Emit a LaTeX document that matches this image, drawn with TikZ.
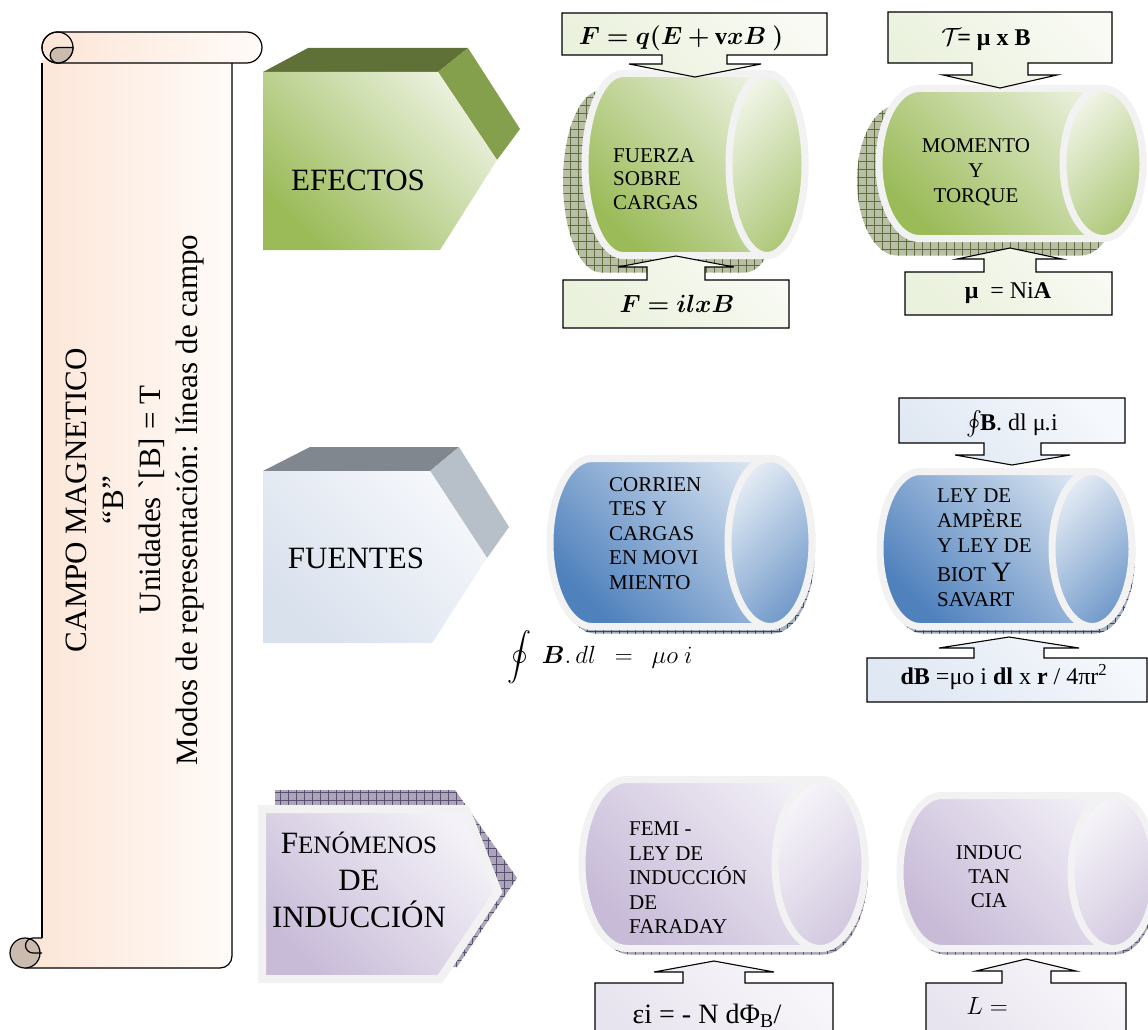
\documentclass[tikz,border=0pt]{standalone}
\usepackage{fontspec}
\setmainfont{Liberation Serif}
\usepackage{amsmath,amssymb,bm}
\usetikzlibrary{calc}

\definecolor{rim}{HTML}{F2F2F2}
\definecolor{gdark}{HTML}{9BBB59}
\definecolor{glight}{HTML}{EBF1DE}
\definecolor{gtop}{HTML}{5F7137}
\definecolor{gside}{HTML}{84A04D}
\definecolor{gshbase}{HTML}{B9BEA6}
\definecolor{gshline}{HTML}{5E6E3A}
\definecolor{bdark}{HTML}{4F81BD}
\definecolor{blight}{HTML}{DCE6F2}
\definecolor{bshbase}{HTML}{A3AEBF}
\definecolor{bshline}{HTML}{2E4A73}
\definecolor{pdark}{HTML}{C8BBD8}
\definecolor{plight}{HTML}{F4F2F8}
\definecolor{pshbase}{HTML}{ABA5B8}
\definecolor{pshline}{HTML}{5A4F72}
\definecolor{ftop}{HTML}{80878F}
\definecolor{fside}{HTML}{B7BFC8}
\definecolor{flight}{HTML}{F5F7FB}
\definecolor{fdark}{HTML}{D9E1ED}
\definecolor{scrollA}{HTML}{FCE5D6}
\definecolor{scrollB}{HTML}{FFFBF8}
\definecolor{curl}{HTML}{CBBBAE}
\definecolor{boxgA}{HTML}{EAF1DC}
\definecolor{boxgB}{HTML}{F8FAF3}
\definecolor{boxbA}{HTML}{E0E8F3}
\definecolor{boxbB}{HTML}{F5F8FC}
\definecolor{boxpA}{HTML}{E8E4EF}
\definecolor{boxpB}{HTML}{F8F6FA}

% outline of a lying cylinder: left x, centre y, x of the front ellipse, radii
\newcommand{\mkcylpath}[5]{({#3},{#2-#5}) -- ({#1+#4},{#2-#5})
  arc[start angle=90, end angle=270, x radius=#4pt, y radius=#5pt]
  -- ({#3},{#2+#5}) arc[start angle=-90, end angle=90, x radius=#4pt, y radius=#5pt] -- cycle}

% cylinder body and its front face
\newcommand{\mkcylinder}[7]{%
  \path[draw=rim, line width=7pt, top color=#7, bottom color=#6, shading angle=-45]
    \mkcylpath{#1}{#2}{#3}{#4}{#5};
  \path[draw=rim, line width=7pt, top color=#7!80!white, bottom color=#6!75!#7, shading angle=45]
    ({#3},{#2}) ellipse[x radius=#4pt, y radius=#5pt];}

% hatched drop shadow of a cylinder
\newcommand{\mkcylshadow}[9]{%
  \begin{scope}[shift={(#6,#7)}]
    \clip \mkcylpath{#1}{#2}{#3}{#4}{#5};
    \fill[#8] ({#1-10},{#2-#5-10}) rectangle ({#3+#4+10},{#2+#5+10});
    \draw[#9, line width=0.5pt, step=8pt] ({#1-10},{#2-#5-10}) grid ({#3+#4+10},{#2+#5+10});
  \end{scope}}

\begin{document}
\begin{tikzpicture}[x=1pt, y=-1pt,
  scrollline/.style={draw=black, line width=1.2pt},
  cyltext/.style={font=\fontsize{21}{24.5}\selectfont, inner sep=0pt},
  bigtext/.style={font=\fontsize{31}{37}\selectfont, inner sep=0pt},
  formula/.style={font=\fontsize{24}{28}\selectfont, inner sep=0pt},
  callg/.style={draw=black, line width=1.1pt, top color=boxgB, bottom color=boxgA, shading angle=-45},
  callb/.style={draw=black, line width=1.1pt, top color=boxbB, bottom color=boxbA, shading angle=-45},
  callp/.style={draw=black, line width=1.1pt, top color=boxpB, bottom color=boxpA, shading angle=-45}]
\useasboundingbox (0,0) rectangle (1148,1030);
\clip (0,0) rectangle (1148,1030);
\fill[white] (0,0) rectangle (1148,1030);

% ---------------- scroll ----------------
\path[left color=scrollA, right color=scrollB] (42,60) -- (42,953) -- (25,953) -- (25,968)
  -- (220,968) arc[start angle=270, end angle=360, radius=12pt] -- (232,60) -- cycle;
\fill[scrollA] (33,938) rectangle (42,953);
\draw[scrollline] (42,63) -- (42,938);
\draw[scrollline] (25,968) -- (220,968) arc[start angle=270, end angle=360, radius=12pt] -- (232,63);
\filldraw[fill=curl, scrollline] (25,953) circle[radius=15pt];
\draw[scrollline] (42,938) -- (33,938) arc[start angle=90, end angle=270, radius=7.5pt] -- (42,953);
\path[left color=scrollA, right color=scrollB, scrollline] (57.5,32) -- (246.5,32)
  arc[start angle=90, end angle=-90, radius=15.5pt] -- (57.5,63)
  arc[start angle=270, end angle=90, radius=15.5pt] -- cycle;
\draw[scrollline] (57.5,47.5) circle[radius=15.5pt];
\filldraw[fill=curl, scrollline] (73,47.5) -- (58,47.5) arc[start angle=90, end angle=270, radius=7.75pt]
  -- (57.5,63) arc[start angle=270, end angle=360, radius=15.5pt] -- cycle;
\node[rotate=90, align=center, font=\fontsize{31}{36.7}\selectfont, inner sep=0pt] (campo) at (135,500)
  {CAMPO MAGNETICO\\“B”\\Unidades \textasciigrave[B] = T\\Modos de representación: líneas de campo};

% ---------------- EFECTOS ----------------
\fill[gtop] (263,72) -- (308,48) -- (468,48) -- (438,72) -- cycle;
\fill[gside] (438,72) -- (468,48) -- (520,129) -- (497,160) -- cycle;
\path[top color=glight, bottom color=gdark, shading angle=-45]
  (263,72) -- (438,72) -- (497,160) -- (440,250) -- (263,250) -- cycle;
\node[bigtext] (efectos) at (358,180) {EFECTOS};

% ---------------- FUENTES ----------------
\fill[ftop] (263,471) -- (310,447) -- (459,447) -- (430,471) -- cycle;
\fill[fside] (430,471) -- (459,447) -- (509,527) -- (487,558) -- cycle;
\path[top color=flight, bottom color=fdark, shading angle=-45]
  (263,471) -- (430,471) -- (487,558) -- (432,643) -- (263,643) -- cycle;
\node[bigtext] (fuentes) at (356,558) {FUENTES};

% ---------------- FENOMENOS DE INDUCCION ----------------
\begin{scope}
  \clip (275,790) -- (455,790) -- (517,878) -- (457,967) -- (275,967) -- cycle;
  \fill[pshbase] (270,785) rectangle (520,970);
  \draw[pshline, line width=0.5pt, step=8pt] (270,785) grid (520,970);
\end{scope}
\path[draw=rim, line width=8pt, top color=plight, bottom color=pdark, shading angle=-45]
  (262,809) -- (466,809) -- (498,892) -- (440,979) -- (262,979) -- cycle;
\node[bigtext, align=center] (fenomenos) at (359,880)
  {F{\fontsize{25}{37}\selectfont ENÓMENOS}\\DE\\INDUCCIÓN};

% ---------------- shadows of the cylinders ----------------
\mkcylshadow{585}{164.5}{767}{38}{91}{-22}{17}{gshbase}{gshline}
\mkcylshadow{879}{163.5}{1103}{40}{75}{-22}{17}{gshbase}{gshline}
\mkcylshadow{550}{542.5}{770}{42}{84}{3}{7}{bshbase}{bshline}
\mkcylshadow{880}{549}{1092}{40}{77.5}{3}{7}{bshbase}{bshline}
\mkcylshadow{582}{864}{820}{45}{84.5}{3}{6}{pshbase}{pshline}
\mkcylshadow{900}{872}{1113}{42}{76.5}{3}{6}{pshbase}{pshline}

% ---------------- cylinders ----------------
\mkcylinder{585}{164.5}{767}{38}{91}{gdark}{glight}
\mkcylinder{879}{163.5}{1103}{40}{75}{gdark}{glight}
\mkcylinder{550}{542.5}{770}{42}{84}{bdark}{blight}
\mkcylinder{880}{549}{1092}{40}{77.5}{bdark}{blight}
\mkcylinder{582}{864}{820}{45}{84.5}{pdark}{plight}
\mkcylinder{900}{872}{1113}{42}{76.5}{pdark}{plight}

\node[cyltext, align=left, anchor=north west, font=\fontsize{21}{23.5}\selectfont] (fuerza) at (613,148)
  {FUERZA\\SOBRE\\CARGAS};
\node[cyltext, align=center, anchor=north, font=\fontsize{21}{25}\selectfont] (momento) at (976,138)
  {MOMENTO\\Y\\TORQUE};
\node[cyltext, align=left, anchor=north west] (corrientes) at (609,477)
  {CORRIEN\\TES Y\\CARGAS\\EN MOVI\\MIENTO};
\node[cyltext, align=left, anchor=north west, font=\fontsize{21}{25}\selectfont] (leyes) at (937,489)
  {LEY DE\\AMPÈRE\\Y LEY DE\\[4pt]BIOT {\fontsize{28}{25}\selectfont Y}\\SAVART};
\node[cyltext, align=left, anchor=north west] (femi) at (629,822)
  {FEMI -\\LEY DE\\INDUCCIÓN\\DE\\FARADAY};
\node[cyltext, align=center, anchor=north, font=\fontsize{21}{24}\selectfont] (inductancia) at (989,845)
  {INDUC\\TAN\\CIA};

\node[formula] (oint) at (600,657) {$\displaystyle\oint\ \bm{B}.\,dl\ \ =\ \ \mu o\ i$};

% ---------------- callout boxes with wide arrows ----------------
\path[callg] (562,13) -- (827,13) -- (827,55) -- (727,55) -- (727,64) -- (761,64) -- (695,77)
  -- (629,64) -- (662,64) -- (662,55) -- (562,55) -- cycle;
\path[callg] (563,328) -- (789,328) -- (789,280) -- (705,280) -- (705,267) -- (734,267) -- (676,256)
  -- (618,267) -- (647,267) -- (647,280) -- (563,280) -- cycle;
\path[callg] (888,12) -- (1112,12) -- (1112,63) -- (1028,63) -- (1028,75) -- (1057,75) -- (1000,88)
  -- (943,75) -- (972,75) -- (972,63) -- (888,63) -- cycle;
\path[callg] (905,315) -- (1112,315) -- (1112,272) -- (1036,272) -- (1036,259) -- (1062,259) -- (1010,248)
  -- (957,259) -- (984,259) -- (984,272) -- (905,272) -- cycle;
\path[callb] (899,398) -- (1125,398) -- (1125,443) -- (1041,443) -- (1041,455) -- (1070,455) -- (1012,465)
  -- (955,455) -- (984,455) -- (984,443) -- (899,443) -- cycle;
\path[callb] (867,702) -- (1147,702) -- (1147,658) -- (1044,658) -- (1044,648) -- (1079,648) -- (1009,637)
  -- (939,648) -- (974,648) -- (974,658) -- (867,658) -- cycle;
\path[callp] (595,1045) -- (833,1045) -- (833,983) -- (745,983) -- (745,972) -- (774,972) -- (714,961)
  -- (654,972) -- (683,972) -- (683,983) -- (595,983) -- cycle;
\path[callp] (926,1045) -- (1126,1045) -- (1126,983) -- (1051,983) -- (1051,971) -- (1076,971) -- (1026,959)
  -- (976,971) -- (1002,971) -- (1002,983) -- (926,983) -- cycle;

\node[formula] (lorentz) at (681,38) {$\bm{F} \bm{=} \bm{q}\bm{(}\bm{E} \bm{+} \mathbf{v}\bm{x}\bm{B}\ \bm{)}$};
\node[formula] (filb) at (677,304) {$\bm{F} \bm{=} \bm{i}\bm{l}\bm{x}\bm{B}$};
\node[formula] (torque) at (986,40) {$\mathcal{T}$\kern-4pt\textbf{= μ x B}};
\node[formula] (momag) at (1008,293) {\textbf{μ}\ \ = Ni\textbf{A}};
\node[formula] (ampere) at (1012,424) {$\oint$\kern-2pt\textbf{B}. dl μ\kern-1pt.\kern0.5pt i};
\node[formula] (biot) at (1004,677) {\textbf{dB} =μo i \textbf{dl} x \textbf{r} / 4πr\textsuperscript{2}};
\node[formula, font=\fontsize{28}{30}\selectfont, anchor=base] (faraday) at (707,1023) {εi = - N dΦ\textsubscript{B}/};
\node[formula, font=\fontsize{26}{28}\selectfont, anchor=base] (induct) at (987,1014) {$L =$};
\end{tikzpicture}
\end{document}
